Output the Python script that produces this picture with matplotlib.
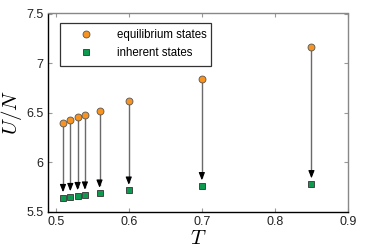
import matplotlib
matplotlib.use("Agg")
import matplotlib.pyplot as plt
from matplotlib.ticker import FuncFormatter

plt.rcParams['font.family'] = ['Liberation Sans', 'DejaVu Sans']
plt.rcParams['mathtext.fontset'] = 'cm'

temps = [0.51, 0.52, 0.53, 0.54, 0.56, 0.60, 0.70, 0.85]
u_equilibrium = [6.39, 6.42, 6.45, 6.47, 6.52, 6.62, 6.84, 7.16]
u_inherent = [5.64, 5.65, 5.66, 5.665, 5.685, 5.715, 5.76, 5.78]
xticks = [0.5, 0.6, 0.7, 0.8, 0.9]
yticks = [5.5, 6, 6.5, 7, 7.5]

fig = plt.figure(figsize=(3.74, 2.49), dpi=100)
ax = fig.add_axes([48/374, 1-211.5/249, 300/374, 198/249])

for t, ue, ui in zip(temps, u_equilibrium, u_inherent):
    tip = ui + 0.055
    ax.plot([t, t], [ue, tip + 0.03], color='#6a6a6a', lw=1.0, zorder=2)
    ax.annotate("", xy=(t, tip), xytext=(t, tip + 0.06),
                arrowprops=dict(arrowstyle="-|>,head_length=0.45,head_width=0.18",
                                color="black", lw=0.8, shrinkA=0, shrinkB=0,
                                mutation_scale=10),
                zorder=2)

ax.plot(temps, u_equilibrium, 'o', color='#f7931e', markeredgecolor='#555555',
        markeredgewidth=0.6, markersize=5, label='equilibrium states', zorder=3)
ax.plot(temps, u_inherent, 's', color='#0d9a4e', markeredgecolor='#333333',
        markeredgewidth=0.6, markersize=4, label='inherent states', zorder=3)

ax.set_xlim(0.4895, 0.9)
ax.set_ylim(5.5, 7.5)
ax.set_xticks(xticks)
ax.set_yticks(yticks)
ax.xaxis.set_major_formatter(FuncFormatter(lambda v, p: f"{v:g}"))
ax.yaxis.set_major_formatter(FuncFormatter(lambda v, p: f"{v:g}"))
ax.tick_params(direction='in', length=3, width=0.8, color='#999999',
               labelsize=9, labelcolor='#222222', top=True, right=True, pad=3)

ax.spines['bottom'].set_color('black')
ax.spines['left'].set_color('black')
ax.spines['top'].set_color('#888888')
ax.spines['right'].set_color('#888888')
for s in ax.spines.values():
    s.set_linewidth(1.0)

ax.set_xlabel('$T$', fontsize=15, labelpad=1)
ax.set_ylabel('$U/N$', fontsize=15, labelpad=2)

leg = ax.legend(loc='upper left', bbox_to_anchor=(0.04, 0.5, 0.503, 0.4545),
                mode='expand', frameon=True,
                fancybox=False, edgecolor='black', fontsize=8.3, handletextpad=1.07,
                borderpad=0.6, labelspacing=0.45, handlelength=3.25, borderaxespad=0)
leg.get_frame().set_linewidth(0.9)

fig.savefig("out.png", dpi=100)
